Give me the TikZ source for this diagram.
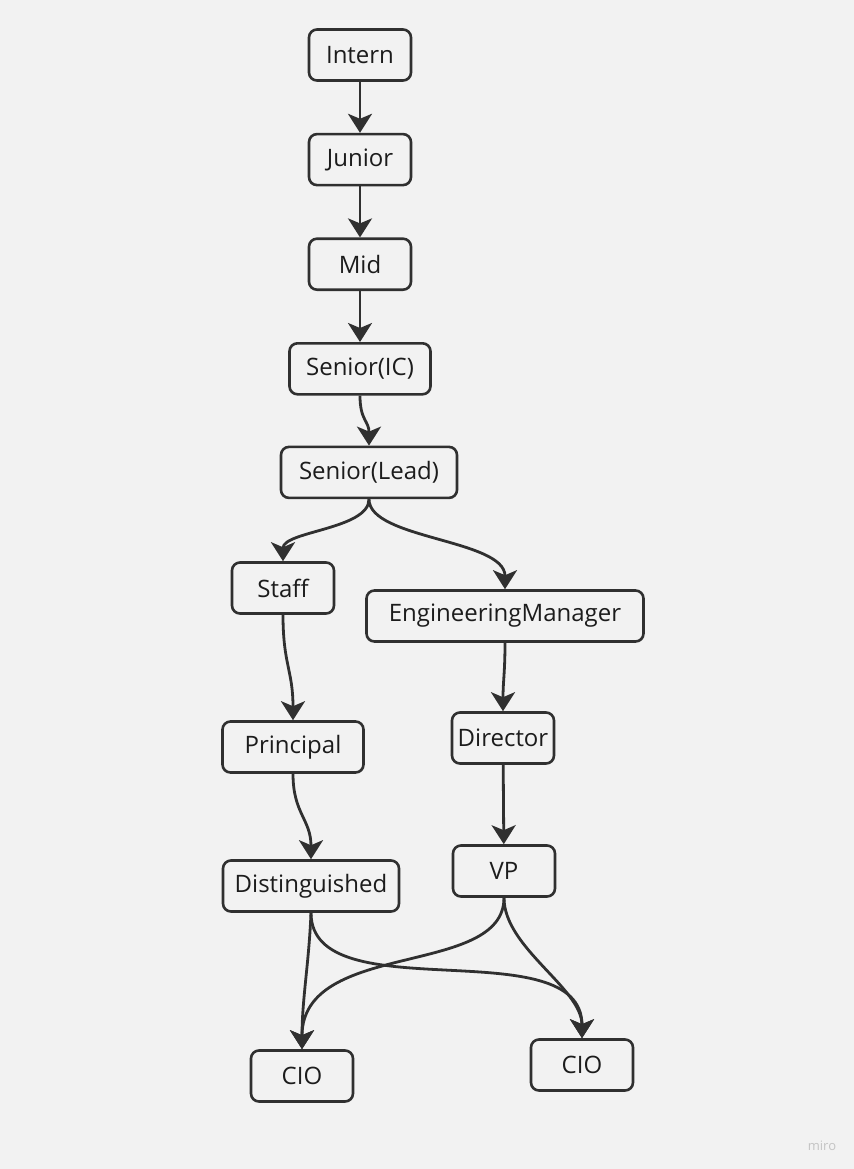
\documentclass[tikz,border=0pt]{standalone}
\usepackage{fontspec}
\setmainfont{Open Sans}
\usepackage{xcolor}
\usetikzlibrary{arrows.meta,positioning}
\definecolor{bgcol}{HTML}{F2F2F2}
\definecolor{linecol}{HTML}{303030}
\definecolor{textcol}{HTML}{1C1C1C}
\definecolor{markcol}{HTML}{C4C4C4}

\begin{document}
\begin{tikzpicture}[
        x=0.5pt, y=-0.5pt,
        >=Stealth,
        node distance=25.5pt,
        box/.style={
            draw=linecol,
            rounded corners=4pt,
            line width=1.3pt,
            fill=bgcol,
            text=textcol,
            align=center,
            inner xsep=2pt,
            inner ysep=0pt,
            minimum width=51pt,
            minimum height=25.5pt,
            font=\fontsize{12}{14}\selectfont
        },
        midbox/.style={box, minimum width=70.5pt},
        widebox/.style={box, minimum width=88pt},
        flow/.style={-{Stealth[length=9.5pt,width=12pt,inset=2.5pt]}, draw=linecol, line width=1.4pt}
    ]
        % Fundo e margens
        \fill[bgcol] (0,0) rectangle (854,1169);
        \useasboundingbox (0,0) rectangle (854,1169);

        % Trilha comum
        \node[box] (intern) at (360,55) {Intern};
        \node[box, below=of intern] (junior) {Junior};
        \node[box, below=of junior] (mid) {Mid};
        \node[midbox, below=of mid] (senioric) {Senior(IC)};
        \node[widebox, below=25pt of senioric, xshift=4.5pt] (seniorlead) {Senior(Lead)};

        % Trilha técnica
        \node[box] (staff) at (283,588) {Staff};
        \node[midbox] (principal) at (293,747) {Principal};
        \node[widebox] (distinguished) at (311,886) {Distinguished};

        % Trilha de gestão
        \node[box, minimum width=138.5pt] (engmanager) at (505,616) {EngineeringManager};
        \node[box] (director) at (503,738) {Director};
        \node[box] (vp) at (504,871) {VP};

        % Topo
        \node[box] (cioleft) at (302,1076) {CIO};
        \node[box] (cioright) at (582,1065) {CIO};

        \node[text=markcol, font=\fontsize{6.5}{8}\selectfont] (miro) at (822,1146) {miro};

        % Setas
        \draw[flow] (intern) -- (junior);
        \draw[flow] (junior) -- (mid);
        \draw[flow] (mid) -- (senioric);
        \draw[flow] (senioric.south) .. controls +(0,25) and +(0,-25) .. (seniorlead.north);

        \draw[flow] (seniorlead.south) .. controls +(0,30) and +(0,-30) .. (staff.north);
        \draw[flow] (seniorlead.south) .. controls +(0,40) and +(0,-50) .. (engmanager.north);

        \draw[flow] (staff.south) .. controls +(0,50) and +(0,-50) .. (principal.north);
        \draw[flow] (principal.south) .. controls +(0,40) and +(0,-40) .. (distinguished.north);

        \draw[flow] (engmanager.south) .. controls +(0,30) and +(0,-30) .. (director.north);
        \draw[flow] (director) -- (vp);

        \draw[flow] (distinguished.south) .. controls +(-2,50) and +(0,-50) .. (cioleft.north);
        \draw[flow] (distinguished.south) .. controls +(0,100) and +(0,-110) .. (cioright.north);
        \draw[flow] (vp.south) .. controls +(0,80) and +(0,-110) .. (cioleft.north);
        \draw[flow] (vp.south) .. controls +(0,50) and +(0,-50) .. (cioright.north);
    \end{tikzpicture}
\end{document}
